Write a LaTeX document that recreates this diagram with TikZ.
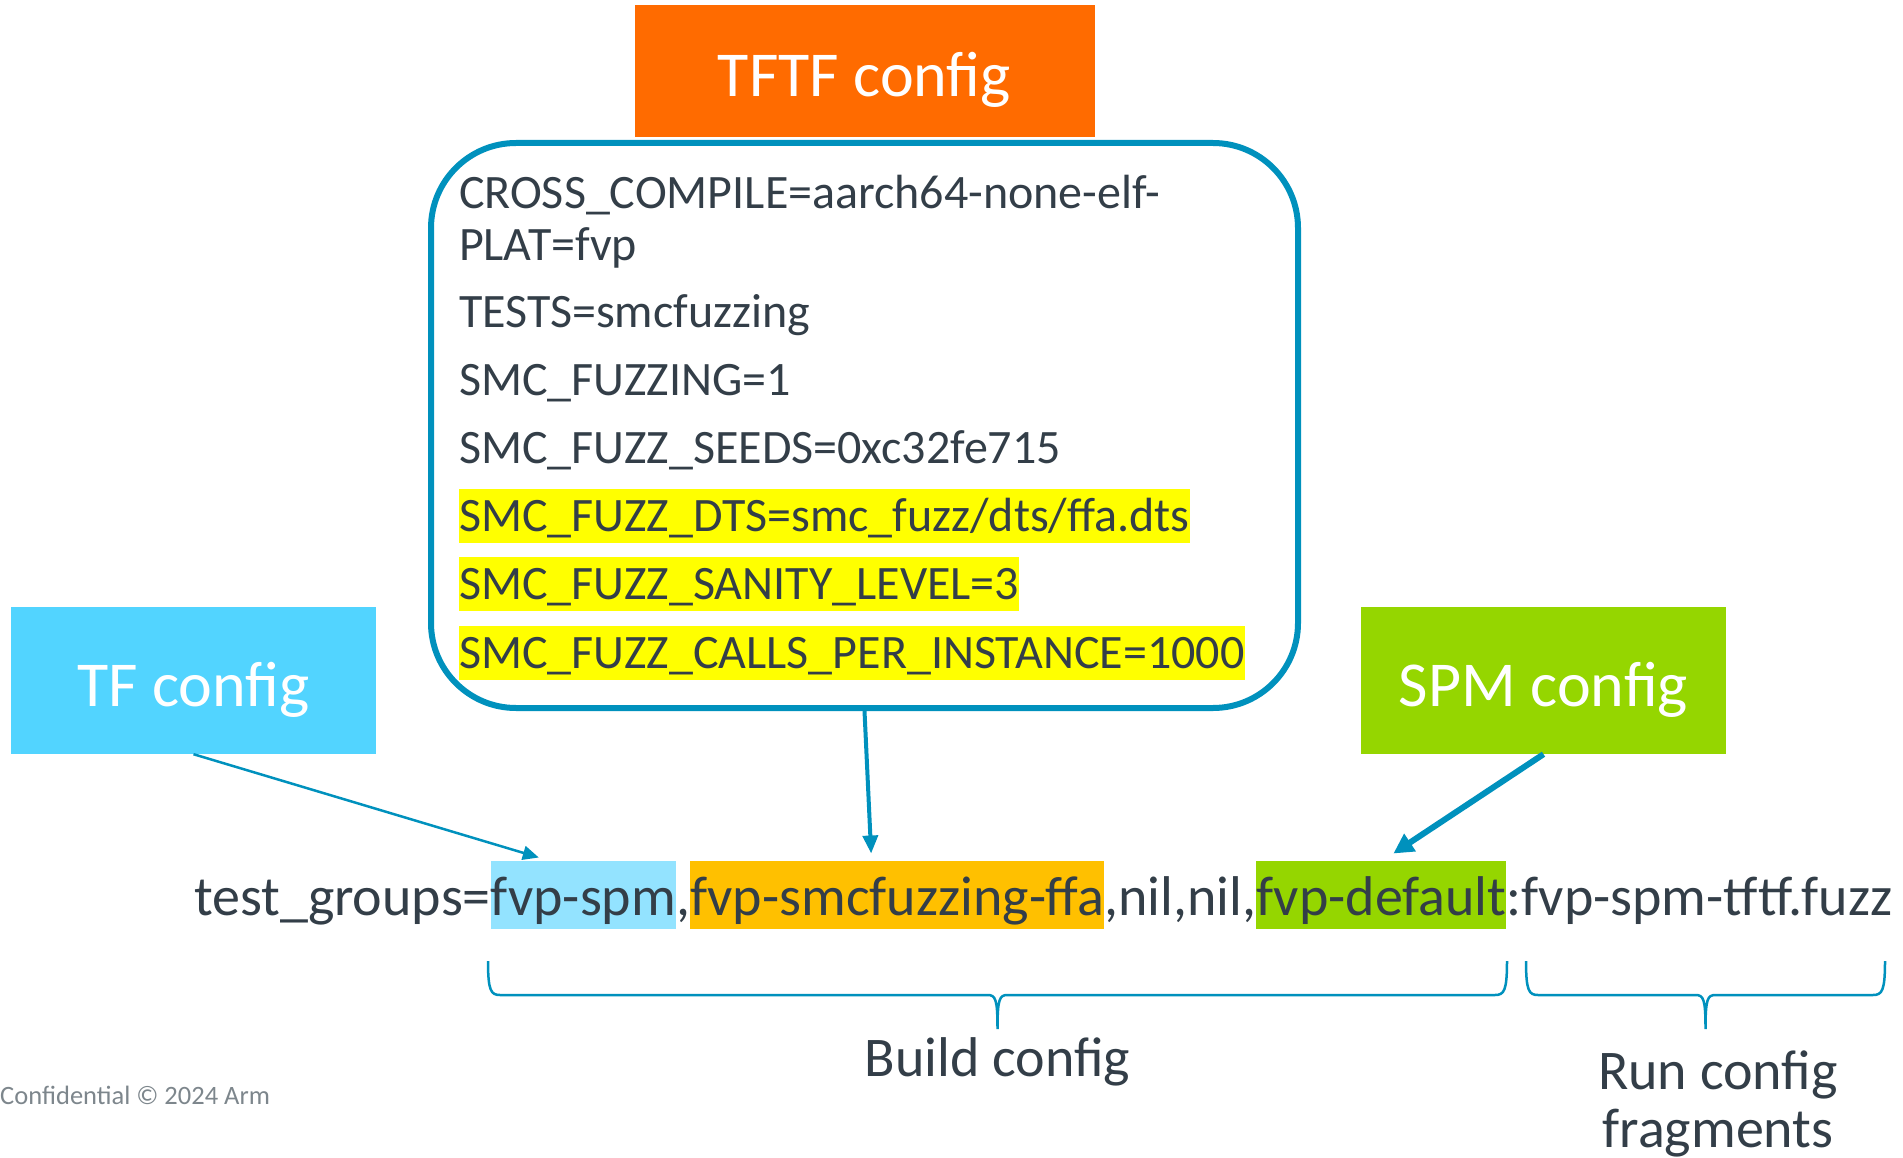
\documentclass[tikz,border=0pt]{standalone}
\usepackage{fontspec}
\setmainfont{Carlito}
\usepackage{tikz}
\usetikzlibrary{arrows.meta}
\usetikzlibrary{positioning}
\usetikzlibrary{calc}
\definecolor{armorange}{HTML}{FF6B00}
\definecolor{armblue}{HTML}{0091BD}
\definecolor{tfcyan}{HTML}{52D4FF}
\definecolor{spmcyan}{HTML}{93E3FF}
\definecolor{armgreen}{HTML}{95D600}
\definecolor{hlamber}{HTML}{FFC000}
\definecolor{hlyellow}{HTML}{FFFF00}
\definecolor{armtext}{HTML}{333E48}
\definecolor{armgrey}{HTML}{7D868C}
\newcommand\boxfont{\fontsize{64}{72}\selectfont}
\newcommand\cfgfont{\fontsize{48}{56}\selectfont}
\newcommand\groupfont{\fontsize{56}{68}\selectfont}
\newcommand\labelfont{\fontsize{56}{58}\selectfont}
\newcommand\cfgbrace[2]{% left x, right x
    \draw[bracket] (#1,961) .. controls (#1,991) and (#1+3,995) .. (#1+12,995)
        -- ({(#1+#2)/2-10},995) .. controls ({(#1+#2)/2-2},995) and ({(#1+#2)/2},999) .. ({(#1+#2)/2},1029)
        .. controls ({(#1+#2)/2},999) and ({(#1+#2)/2+2},995) .. ({(#1+#2)/2+10},995)
        -- (#2-12,995) .. controls (#2-3,995) and (#2,991) .. (#2,961);
}
\tikzset{
    cfgbox/.style={text=white, font=\boxfont, minimum width=365pt, minimum height=147pt, inner sep=0pt, text height=52pt, text depth=0pt},
    cfgline/.style={text=armtext, font=\cfgfont, inner xsep=0pt, inner ysep=0pt, outer sep=0pt, text height=42pt, text depth=12pt, anchor=west},
    marked/.style={fill=hlyellow},
    piece/.style={text=armtext, font=\groupfont, inner xsep=0pt, inner ysep=0.5pt, outer sep=0pt, text height=54pt, text depth=13pt},
    feed/.style={draw=armblue, -{Triangle[length=16pt,width=14pt]}},
    bracket/.style={draw=armblue, line width=2.5pt},
}
\begin{document}
\begin{tikzpicture}[x=1pt,y=-1pt]
    \useasboundingbox (0,0) rectangle (1903,1158);
    % config boxes
    \node[draw=armblue, line width=6pt, rounded corners=85pt, minimum width=867pt, minimum height=565pt] (tftfbox) at (864.5,425.5) {};
    \node[cfgbox, fill=armorange, minimum width=460pt, minimum height=132pt, above=3pt of tftfbox] (tftf) {TFTF config};
    \node[cfgbox, fill=tfcyan] (tf) at (193.5,680.5) {TF config};
    \node[cfgbox, fill=armgreen] (spm) at (1543.5,680.5) {SPM config};
    % tftf settings
    \node[cfgline] (cross) at (459,194) {CROSS\_COMPILE=aarch64-none-elf-};
    \node[cfgline, below=52pt of cross.west, anchor=west] (plat) {PLAT=fvp};
    \node[cfgline, below=66pt of plat.west, anchor=west] (tests) {TESTS=smcfuzzing};
    \node[cfgline, below=68pt of tests.west, anchor=west] (fuzzing) {SMC\_FUZZING=1};
    \node[cfgline, below=68pt of fuzzing.west, anchor=west] (seeds) {SMC\_FUZZ\_SEEDS=0xc32fe715};
    \node[cfgline, marked, below=68pt of seeds.west, anchor=west] (dts) {SMC\_FUZZ\_DTS=smc\_fuzz/dts/ffa.dts};
    \node[cfgline, marked, below=68pt of dts.west, anchor=west] (sanity) {SMC\_FUZZ\_SANITY\_LEVEL=3};
    \node[cfgline, marked, below=69pt of sanity.west, anchor=west] (calls) {SMC\_FUZZ\_CALLS\_PER\_INSTANCE=1000};
    % test_groups string
    \node[piece, anchor=base west] (tg) at (194,915) {test\_groups=};
    \node[piece, fill=spmcyan, base right=0pt of tg] (fspm) {fvp-spm};
    \node[piece, base right=0pt of fspm] (comma) {,};
    \node[piece, fill=hlamber, base right=0pt of comma] (fsmc) {fvp-smcfuzzing-ffa};
    \node[piece, base right=0pt of fsmc] (nils) {,nil,nil,};
    \node[piece, fill=armgreen, base right=0pt of nils] (fdef) {fvp-default};
    \node[piece, base right=0pt of fdef] (frag) {:fvp-spm-tftf.fuzz};
    % arrows
    \draw[feed, line width=2.5pt] (tf.south) -- ($(fspm.north west)+(48,-3)$);
    \draw[feed, line width=4pt, -{Triangle[length=18pt,width=15pt]}] (tftfbox.south) -- ($(fsmc.north west)+(181,-7)$);
    \draw[feed, line width=6pt, -{Triangle[length=20pt,width=20pt]}] (spm.south) -- ($(fdef.north west)+(137,-7)$);
    % braces
    \cfgbrace{488}{1507}
    \cfgbrace{1526}{1885}
    \coordinate (buildtip) at (997.5,1029);
    \coordinate (runtip) at (1718,1029);
    \node[text=armtext, font=\labelfont, inner sep=0pt, below=8pt of buildtip] (build) {Build config};
    \node[text=armtext, font=\labelfont, inner sep=0pt, align=center, below=22pt of runtip] (runcfg) {Run config\\fragments};
    \node[text=armgrey, font=\fontsize{26.5}{30}\selectfont, inner sep=0pt, anchor=west] (conf) at (0,1095) {Confidential © 2024 Arm};
\end{tikzpicture}
\end{document}
